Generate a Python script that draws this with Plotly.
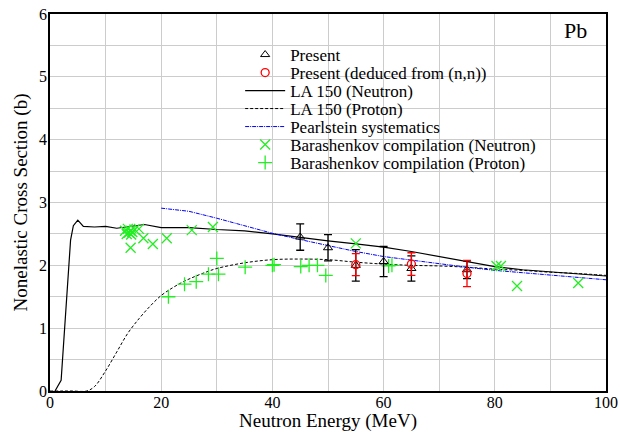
import plotly.graph_objects as go

# ---- data ----
la150_n_x = [0.9, 2, 3.7, 4.2, 5, 6, 8, 10, 12, 14, 17, 20, 25, 30, 35, 40, 45, 50, 55, 60, 65, 70, 75, 80, 85, 90, 95, 100]
la150_n_y = [0, 0.17, 2.4, 2.63, 2.72, 2.62, 2.61, 2.62, 2.59, 2.61, 2.65, 2.6, 2.6, 2.57, 2.55, 2.5, 2.44, 2.39, 2.34, 2.29, 2.22, 2.14, 2.06, 1.98, 1.93, 1.9, 1.87, 1.83]

la150_p_x = [0, 2, 4, 6.6, 8, 10, 12, 14, 16, 18, 20, 22, 24, 26, 28, 30, 35, 40, 45, 50, 55, 60, 65, 70, 75, 80, 85, 90, 95, 100]
la150_p_y = [0, 0, 0, 0, 0.07, 0.32, 0.62, 0.92, 1.15, 1.35, 1.52, 1.64, 1.74, 1.82, 1.89, 1.95, 2.04, 2.09, 2.1, 2.09, 2.05, 2.02, 2.0, 1.99, 1.97, 1.94, 1.92, 1.89, 1.87, 1.84]

pearl_x = [20, 25, 30, 35, 40, 45, 50, 55, 60, 65, 70, 75, 80, 85, 90, 95, 100]
pearl_y = [2.91, 2.86, 2.75, 2.63, 2.51, 2.41, 2.31, 2.22, 2.14, 2.08, 2.02, 1.97, 1.92, 1.88, 1.85, 1.81, 1.77]

present_x = [45, 50, 55, 60, 65, 75]
present_y = [2.45, 2.28, 2.00, 2.06, 1.95, 1.93]
present_err = [0.21, 0.21, 0.25, 0.24, 0.20, 0.14]

deduced_x = [55, 65, 75]
deduced_y = [2.01, 2.02, 1.87]
deduced_err = [0.175, 0.18, 0.21]

bar_n_x = [13.5, 13.8, 14.0, 14.2, 14.5, 14.6, 14.8, 15.2, 16.0, 14.5, 16.8, 18.5, 21.0, 25.5, 29.3, 55.0, 80.3, 81.1, 84.0, 95.0]
bar_n_y = [2.55, 2.50, 2.58, 2.52, 2.55, 2.49, 2.53, 2.57, 2.58, 2.28, 2.43, 2.34, 2.43, 2.56, 2.61, 2.35, 1.99, 1.99, 1.67, 1.72]

bar_p_x = [21.3, 24.2, 26.3, 28.5, 30.0, 30.3, 35.1, 40.0, 40.3, 45.1, 46.6, 48.1, 49.6, 60.9, 61.5]
bar_p_y = [1.50, 1.70, 1.74, 1.86, 2.11, 1.86, 1.97, 2.00, 2.01, 1.98, 2.00, 2.00, 1.84, 1.99, 2.00]

legend_names = ["Present", "Present (deduced from (n,n))", "LA 150 (Neutron)", "LA 150 (Proton)",
                "Pearlstein systematics", "Barashenkov compilation (Neutron)", "Barashenkov compilation (Proton)"]

FONT = "Liberation Serif, Times New Roman, serif"
GREEN = "#22ee22"

fig = go.Figure()
fig.add_trace(go.Scatter(x=la150_n_x, y=la150_n_y, mode="lines", name=legend_names[2], legend="legend3",
                         line=dict(color="black", width=1.2)))
fig.add_trace(go.Scatter(x=la150_p_x, y=la150_p_y, mode="lines", name=legend_names[3], legend="legend4",
                         line=dict(color="black", width=1, dash="3px,2px"), line_shape="spline"))
fig.add_trace(go.Scatter(x=pearl_x, y=pearl_y, mode="lines", name=legend_names[4], legend="legend5",
                         line=dict(color="blue", width=1, dash="4px,1px,1px,1px")))
fig.add_trace(go.Scatter(x=bar_n_x, y=bar_n_y, mode="markers", name=legend_names[5], legend="legend6",
                         marker=dict(symbol="x-thin-open", size=10, color=GREEN, line=dict(width=1.3, color=GREEN))))
fig.add_trace(go.Scatter(x=bar_p_x, y=bar_p_y, mode="markers", name=legend_names[6], legend="legend7",
                         marker=dict(symbol="cross-thin-open", size=10, color=GREEN, line=dict(width=1.3, color=GREEN))))
fig.add_trace(go.Scatter(x=present_x, y=present_y, mode="markers", name=legend_names[0], legend="legend",
                         marker=dict(symbol="triangle-up-open", size=8, color="black", line=dict(width=1)),
                         error_y=dict(type="data", array=present_err, color="black", thickness=1.3, width=4)))
fig.add_trace(go.Scatter(x=deduced_x, y=deduced_y, mode="markers", name=legend_names[1], legend="legend2",
                         marker=dict(symbol="circle-open", size=8, color="red", line=dict(width=1.3)),
                         error_y=dict(type="data", array=deduced_err, color="red", thickness=1.3, width=4)))

TOP, BOT = 14.0, 391.0          # plot-area top/bottom in page pixels
centers = [55, 73, 91, 109, 127, 145, 163]  # legend row centres in page pixels
leg_common = dict(x=0.342, xanchor="left", yanchor="middle", bgcolor="rgba(0,0,0,0)",
                  font=dict(family=FONT, size=17), itemwidth=40, borderwidth=0)
layout_legends = {}
for i, c in enumerate(centers):
    key = "legend" if i == 0 else f"legend{i+1}"
    layout_legends[key] = dict(leg_common, y=(BOT - c) / (BOT - TOP))

fig.update_layout(
    width=620, height=432,
    margin=dict(l=50, r=14, t=14, b=41),
    paper_bgcolor="white", plot_bgcolor="white",
    font=dict(family=FONT, size=16, color="black"),
    showlegend=True,
    annotations=[dict(text="Pb", x=0.969, y=0.995, xref="paper", yref="paper", xanchor="right", yanchor="top",
                      showarrow=False, font=dict(family=FONT, size=22))],
    **layout_legends,
)
fig.update_xaxes(range=[0, 100], dtick=20, tick0=0, showgrid=True, gridcolor="#cccccc", gridwidth=1,
                 minor=dict(dtick=10, showgrid=True, gridcolor="#cccccc", gridwidth=1),
                 showline=True, linecolor="black", linewidth=1.5, mirror=True, ticks="", zeroline=False,
                 tickfont=dict(family=FONT, size=16), automargin=False, ticklabelstandoff=-4,
                 title=dict(text="Neutron Energy (MeV)", font=dict(family=FONT, size=19), standoff=15))
fig.update_yaxes(range=[0, 6], dtick=1, tick0=0, showgrid=True, gridcolor="#cccccc", gridwidth=1,
                 minor=dict(dtick=0.5, showgrid=True, gridcolor="#cccccc", gridwidth=1),
                 showline=True, linecolor="black", linewidth=1.5, mirror=True, ticks="", zeroline=False,
                 tickfont=dict(family=FONT, size=16), ticklabelstandoff=-2, automargin=False,
                 title=dict(text="Nonelastic Cross Section (b)", font=dict(family=FONT, size=19), standoff=6))

# remove the browser's default 8px body margin so the figure fills the window exactly
fig.write_html("out.html", config={"displayModeBar": False},
               post_script="document.body.style.margin='0';")
